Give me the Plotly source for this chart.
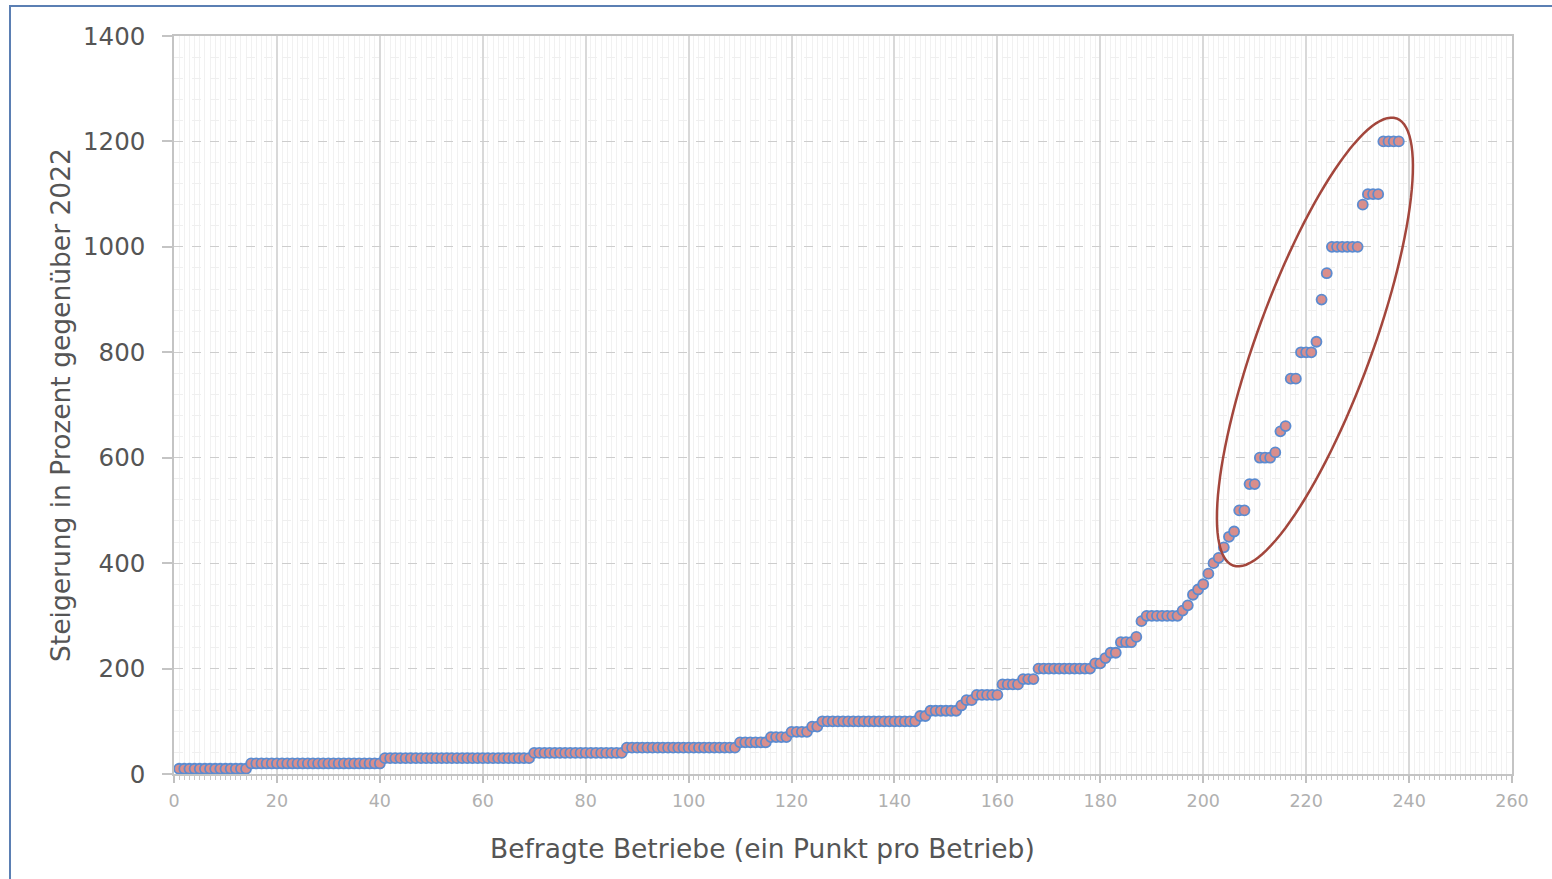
import math
import plotly.graph_objects as go

# Values, run-length encoded: level (percent) and how many consecutive firms share it
step_values = [10, 20, 30, 40, 50, 60, 70, 80, 90, 100,
               110, 120, 130, 140, 150, 170, 180, 200, 210, 220,
               230, 250, 260, 290, 300, 310, 320, 340, 350, 360,
               380, 400, 410, 430, 450, 460, 500, 550, 600, 610,
               650, 660, 750, 800, 820, 900, 950, 1000, 1080, 1100,
               1200]
step_counts = [14, 26, 29, 18, 22, 6, 4, 4, 2, 19,
               2, 6, 1, 2, 5, 4, 3, 11, 2, 1,
               2, 3, 1, 1, 7, 1, 1, 1, 1, 1,
               1, 1, 1, 1, 1, 1, 2, 2, 3, 1,
               1, 1, 2, 3, 1, 1, 1, 6, 1, 3,
               4]

x_tick_values = list(range(0, 261, 20))
y_tick_values = list(range(0, 1401, 200))

x_title = "Befragte Betriebe (ein Punkt pro Betrieb)"
y_title = "Steigerung in Prozent gegenüber 2022"

# expand runs into one point per firm
y_vals = []
for v, c in zip(step_values, step_counts):
    y_vals.extend([v] * c)
x_vals = list(range(1, len(y_vals) + 1))

W, H = 1552, 879
ML, MR, MT, MB = 174, 40, 36, 105
PW, PH = W - ML - MR, H - MT - MB
X_MAX, Y_MAX = 260, 1400
px_x = PW / X_MAX
px_y = PH / Y_MAX

fig = go.Figure()
fig.add_trace(go.Scatter(
    x=x_vals, y=y_vals, mode="markers",
    marker=dict(size=10, color="#d98e8c", line=dict(color="#5b8bd0", width=1.8)),
    cliponaxis=False, hoverinfo="x+y", showlegend=False,
))

# highlight ellipse (defined in pixel geometry, converted to data units)
ecx, ecy = 221.7, 819.5
ea, eb, eang = 238.0, 57.5, math.radians(69.9)
pts = []
for i in range(121):
    t = 2 * math.pi * i / 120
    dx = ea * math.cos(t) * math.cos(eang) - eb * math.sin(t) * math.sin(eang)
    dy = ea * math.cos(t) * math.sin(eang) + eb * math.sin(t) * math.cos(eang)
    pts.append((ecx + dx / px_x, ecy + dy / px_y))
path = "M " + " L ".join(f"{x:.3f},{y:.3f}" for x, y in pts) + " Z"

shapes = [
    dict(type="path", path=path, xref="x", yref="y",
         line=dict(color="#a3463c", width=2.5), fillcolor="rgba(0,0,0,0)"),
    dict(type="rect", xref="paper", yref="paper",
         x0=(10 - ML) / PW, x1=(W + 10 - ML) / PW,
         y0=(PH + MT - (H + 10)) / PH, y1=(PH + MT - 6) / PH,
         line=dict(color="#5b7fb3", width=2), fillcolor="rgba(0,0,0,0)", layer="below"),
]

font_family = "DejaVu Sans"

fig.update_layout(
    width=W, height=H,
    margin=dict(l=ML, r=MR, t=MT, b=MB),
    paper_bgcolor="white", plot_bgcolor="white",
    font=dict(family=font_family),
    shapes=shapes,
    xaxis=dict(
        range=[0, X_MAX], tickvals=x_tick_values,
        showgrid=True, gridcolor="#d9d9d9", gridwidth=1.5,
        showline=True, linecolor="#c4c4c4", linewidth=1.5, mirror=True,
        zeroline=False,
        ticks="outside", ticklen=7, tickcolor="#c0c0c0", tickwidth=1.5,
        tickfont=dict(size=17.5, color="#b0b0b0", family=font_family),
        ticklabelstandoff=3,
        minor=dict(dtick=1, tick0=0, showgrid=True, gridcolor="#f1f1f1", gridwidth=1,
                   ticks="outside", ticklen=4, tickcolor="#c8c8c8", tickwidth=1),
    ),
    yaxis=dict(
        range=[0, Y_MAX], tickvals=y_tick_values,
        showgrid=True, gridcolor="#cdcdcd", gridwidth=1.3, griddash="dash",
        showline=True, linecolor="#c4c4c4", linewidth=1.5, mirror=True,
        zeroline=False,
        ticks="outside", ticklen=10, tickcolor="#c4c4c4", tickwidth=1.5,
        tickfont=dict(size=24.5, color="#555555", family=font_family),
        ticklabelstandoff=12,
        minor=dict(dtick=40, tick0=0, showgrid=True, gridcolor="#efefef", gridwidth=1,
                   ticks=""),
    ),
    annotations=[
        dict(text=x_title, xref="paper", yref="paper",
             x=(762 - ML) / PW, y=(PH + MT - 848) / PH,
             xanchor="center", yanchor="middle", showarrow=False,
             font=dict(size=26.5, color="#555555", family=font_family)),
        dict(text=y_title, xref="paper", yref="paper",
             x=(60 - ML) / PW, y=0.5, textangle=-90,
             xanchor="center", yanchor="middle", showarrow=False,
             font=dict(size=26.5, color="#555555", family=font_family)),
    ],
)

fig.write_html("out.html", config={"displayModeBar": False},
               post_script="document.body.style.margin='0';")
